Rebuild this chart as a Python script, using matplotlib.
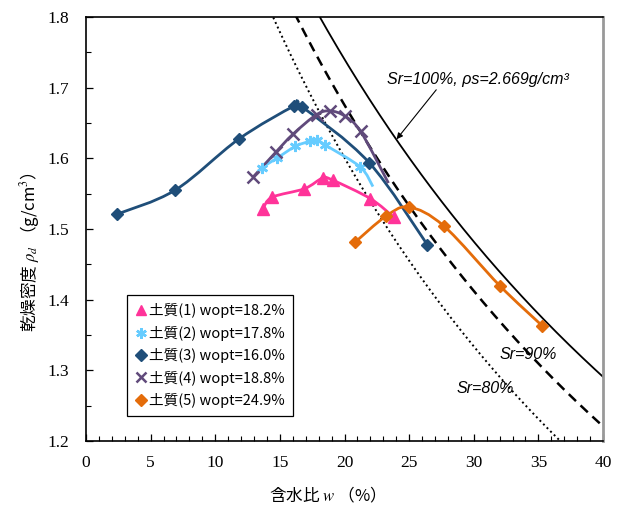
import numpy as np
import matplotlib
matplotlib.use("Agg")
import matplotlib.pyplot as plt
from matplotlib.path import Path
from matplotlib.patches import PathPatch
from matplotlib.lines import Line2D
from matplotlib.ticker import MultipleLocator, FormatStrFormatter

plt.rcParams['mathtext.fontset'] = 'stix'

# ---------------- data ----------------
soil_labels = ["土質(1) wopt=18.2%", "土質(2) wopt=17.8%", "土質(3) wopt=16.0%",
               "土質(4) wopt=18.8%", "土質(5) wopt=24.9%"]

w1 = [13.7, 14.4, 16.9, 18.3, 19.1, 22.0, 23.8]
d1 = [1.529, 1.545, 1.557, 1.572, 1.569, 1.543, 1.517]

w2 = [13.6, 14.75, 16.2, 17.3, 17.9, 18.5, 21.2, 22.2]
d2 = [1.587, 1.600, 1.617, 1.624, 1.626, 1.619, 1.588, 1.560]

w3 = [2.4, 6.9, 11.8, 16.1, 16.7, 21.9, 26.4]
d3 = [1.521, 1.555, 1.627, 1.674, 1.673, 1.594, 1.478]

w4 = [12.9, 14.7, 16.0, 17.85, 18.9, 20.0, 21.25, 23.4]
d4 = [1.573, 1.609, 1.634, 1.662, 1.667, 1.660, 1.638, 1.565]

w5 = [20.8, 23.2, 25.0, 27.7, 32.0, 35.3]
d5 = [1.481, 1.518, 1.531, 1.504, 1.420, 1.363]

rho_s = 2.669
Sr_values = [100, 90, 80]

# ---------------- styling ----------------
colors = ["#FF3399", "#66CCFF", "#1F4E79", "#604A7B", "#E46C0A"]
markers = ["^", (6, 2, 0), "D", "x", "D"]
msizes = [8, 8, 6.5, 8, 6.5]
# last point of (2) and (4) has no visible marker
mark_n = [None, 7, None, 7, None]

fig = plt.figure(figsize=(6.22, 5.07), dpi=100)
W, H = 622, 507
ax = fig.add_axes([86 / W, 1 - 441 / H, (603 - 86) / W, (441 - 17) / H])
ax.set_xlim(0, 40)
ax.set_ylim(1.2, 1.8)


def smooth_path(xs, ys):
    pts = np.column_stack([xs, ys]).astype(float)
    n = len(pts)
    verts = [pts[0]]
    codes = [Path.MOVETO]
    for i in range(n - 1):
        p0 = pts[i - 1] if i > 0 else pts[i]
        p1 = pts[i]
        p2 = pts[i + 1]
        p3 = pts[i + 2] if i + 2 < n else pts[i + 1]
        c1 = p1 + (p2 - p0) / 6.0
        c2 = p2 - (p3 - p1) / 6.0
        verts += [c1, c2, p2]
        codes += [Path.CURVE4] * 3
    return Path(verts, codes)


def edge_w(m):
    return 1.8 if (m == "x" or isinstance(m, tuple)) else 1.0


series = [(w1, d1), (w2, d2), (w3, d3), (w4, d4), (w5, d5)]
for (ws, ds), c, m, ms, mn in zip(series, colors, markers, msizes, mark_n):
    patch = PathPatch(smooth_path(ws, ds), facecolor="none", edgecolor=c, lw=2.0, zorder=3)
    ax.add_patch(patch)
    k = mn if mn is not None else len(ws)
    ax.plot(ws[:k], ds[:k], linestyle="none", marker=m, color=c, markersize=ms,
            markeredgewidth=edge_w(m), zorder=4)

# saturation curves
w_grid = np.linspace(10, 40, 301)
styles = {100: dict(ls="-", lw=1.3),
          90: dict(ls=(0, (4, 2.5)), lw=1.8),
          80: dict(ls=(0, (1, 1.6)), lw=1.4)}
for Sr in Sr_values:
    rd = rho_s / (1 + w_grid * rho_s / Sr)
    ax.plot(w_grid, rd, color="black", zorder=2, **styles[Sr])

# annotations
afont = dict(family="Liberation Sans", style="italic", size=11.5)
ax.text(30.3, 1.711, "Sr=100%, ρs=2.669g/cm³", ha="center", va="center", **afont)
ax.text(34.24, 1.322, "Sr=90%", ha="center", va="center", **afont)
ax.text(30.87, 1.274, "Sr=80%", ha="center", va="center", **afont)
ax.annotate("", xy=(24.03, 1.627), xytext=(27.1, 1.697),
            arrowprops=dict(arrowstyle="-|>", color="black", lw=0.8, mutation_scale=9,
                            shrinkA=0, shrinkB=0))

# axes styling
ax.xaxis.set_major_locator(MultipleLocator(5))
ax.xaxis.set_minor_locator(MultipleLocator(1))
ax.yaxis.set_major_locator(MultipleLocator(0.1))
ax.yaxis.set_minor_locator(MultipleLocator(0.05))
ax.yaxis.set_major_formatter(FormatStrFormatter("%.1f"))
ax.tick_params(which="both", direction="in", top=False, right=False, color="black")
ax.tick_params(which="major", length=5, width=0.9)
ax.tick_params(which="minor", length=3.5, width=0.8)
ax.tick_params(axis="x", pad=10)
ax.tick_params(axis="y", pad=12)
for lab in ax.get_xticklabels() + ax.get_yticklabels():
    lab.set_fontfamily("Liberation Serif")
    lab.set_fontsize(12.5)
ax.spines["left"].set_linewidth(1.2)
ax.spines["bottom"].set_linewidth(1.2)
ax.spines["top"].set_linewidth(1.2)
ax.spines["right"].set_color("#999999")
ax.spines["right"].set_linewidth(2.0)

# legend
handles = [Line2D([], [], linestyle="none", marker=m, color=c, markersize=ms * 0.95,
                  markeredgewidth=edge_w(m))
           for c, m, ms in zip(colors, markers, msizes)]
leg = ax.legend(handles, soil_labels, loc="lower left",
                bbox_to_anchor=((127 - 86) / 517, (441 - 416) / 424),
                borderaxespad=0, frameon=True, fancybox=False, framealpha=1,
                edgecolor="black", handlelength=0.8, handletextpad=0.15,
                labelspacing=0.5, borderpad=0.55,
                prop=dict(family=["Noto Sans CJK JP", "DejaVu Sans"], size=10.5))
leg.get_frame().set_linewidth(0.9)
leg.set_zorder(5)

# axis labels
fig.text(323 / W, 1 - 495 / H, "含水比 $w$ （%）", ha="center", va="center",
         family="Noto Sans CJK JP", fontsize=12)
fig.text(30 / W, 1 - 252 / H, "乾燥密度 $\\rho_d$ （g/cm$^3$）", ha="center", va="center",
         rotation=90, family="Noto Sans CJK JP", fontsize=12)

fig.savefig("out.png", dpi=100)
